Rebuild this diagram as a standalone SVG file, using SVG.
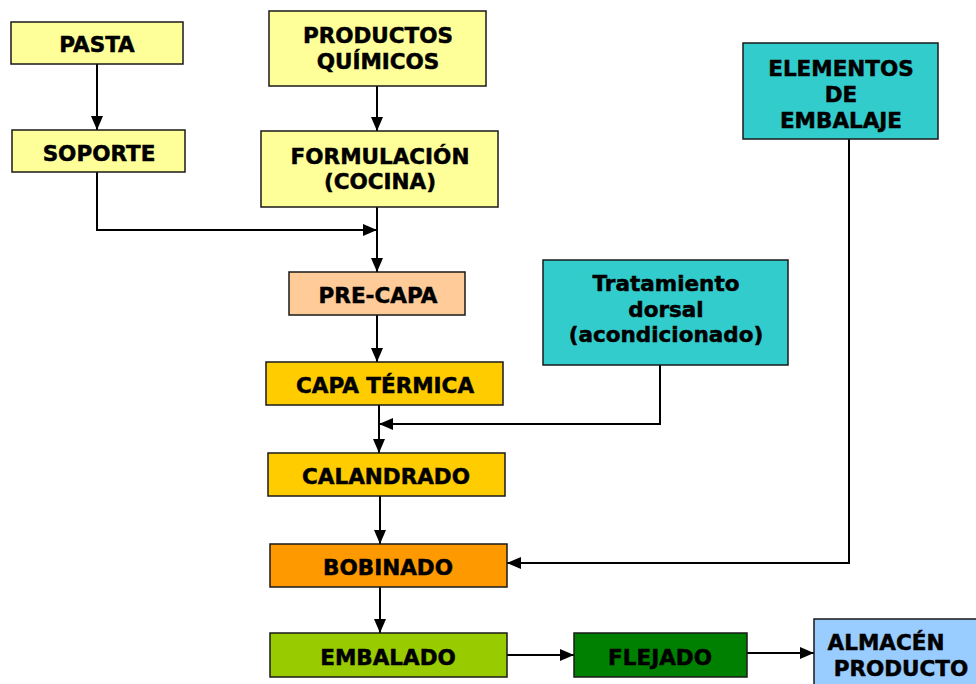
<svg xmlns="http://www.w3.org/2000/svg" width="976" height="684" viewBox="0 0 976 684">
<defs>
<marker id="ah" viewBox="0 0 14 12" refX="14" refY="6" markerWidth="14" markerHeight="12" markerUnits="userSpaceOnUse" orient="auto">
<path d="M0,0 L14,6 L0,12 Z" fill="#000"/>
</marker>
</defs>
<style>
rect{stroke:#1a1a1a;stroke-width:1.5}
text{font-family:"DejaVu Sans","Verdana",sans-serif;font-weight:bold;font-size:21.5px;fill:#000;stroke:#000;stroke-width:0.5;text-anchor:middle}
.c path{fill:none;stroke:#000;stroke-width:2;marker-end:url(#ah)}
</style>
<rect width="976" height="684" fill="#fff" style="stroke:none"/>
<g class="c" id="connectors">
<path d="M97,64 V130"/>
<path d="M377,86 V131"/>
<path d="M97,172 V230 H377"/>
<path d="M377,207 V272"/>
<path d="M377,315 V362"/>
<path d="M379,405 V453"/>
<path d="M660,365 V424 H379"/>
<path d="M380,496 V544"/>
<path d="M849,139 V563 H507"/>
<path d="M380,587 V633"/>
<path d="M507,655 H574"/>
<path d="M747,653 H814"/>
</g>
<g id="pasta"><rect x="11" y="22" width="172" height="42" fill="#FFFF99"/><text x="97" y="52">PASTA</text></g>
<g id="productos"><rect x="269" y="11" width="217" height="75" fill="#FFFF99"/><text x="378" y="43">PRODUCTOS</text><text x="378" y="69">QUÍMICOS</text></g>
<g id="soporte"><rect x="12" y="130" width="173" height="42" fill="#FFFF99"/><text x="99" y="161">SOPORTE</text></g>
<g id="formulacion"><rect x="261" y="131" width="237" height="76" fill="#FFFF99"/><text x="380" y="164">FORMULACIÓN</text><text x="380" y="189">(COCINA)</text></g>
<g id="elementos"><rect x="743" y="43" width="195" height="96" fill="#33CCCC"/><text x="841" y="76">ELEMENTOS</text><text x="841" y="102">DE</text><text x="841" y="128">EMBALAJE</text></g>
<g id="precapa"><rect x="289" y="272" width="176" height="43" fill="#FFCC99"/><text x="378" y="303">PRE-CAPA</text></g>
<g id="tratamiento"><rect x="543" y="260" width="245" height="105" fill="#33CCCC"/><text x="666" y="291">Tratamiento</text><text x="666" y="317">dorsal</text><text x="666" y="342">(acondicionado)</text></g>
<g id="capatermica"><rect x="266" y="362" width="237" height="43" fill="#FFCC00"/><text x="385" y="393">CAPA TÉRMICA</text></g>
<g id="calandrado"><rect x="268" y="453" width="237" height="43" fill="#FFCC00"/><text x="386" y="484">CALANDRADO</text></g>
<g id="bobinado"><rect x="270" y="544" width="237" height="43" fill="#FF9900"/><text x="388" y="575">BOBINADO</text></g>
<g id="embalado"><rect x="270" y="633" width="237" height="44" fill="#99CC00"/><text x="388" y="665">EMBALADO</text></g>
<g id="flejado"><rect x="574" y="633" width="173" height="44" fill="#008000"/><text x="660" y="665">FLEJADO</text></g>
<g id="almacen"><rect x="814" y="619" width="170" height="70" fill="#99CCFF"/><text x="886" y="650">ALMACÉN</text><text x="901" y="676">PRODUCTO</text></g>
</svg>
